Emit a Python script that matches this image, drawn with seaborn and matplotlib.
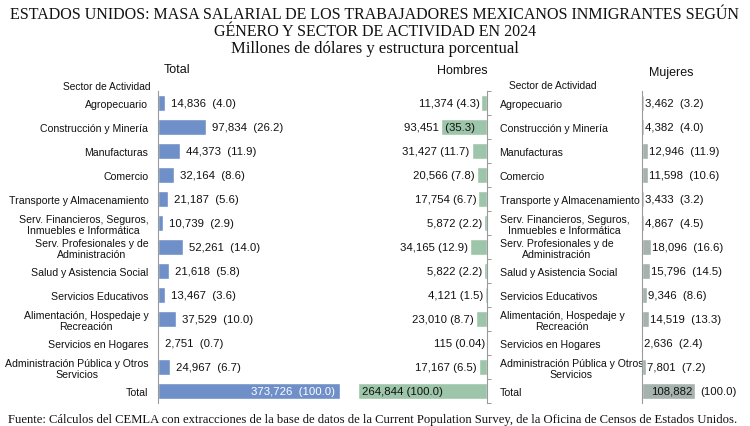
import numpy as np
import pandas as pd
import matplotlib
matplotlib.use("Agg")
import matplotlib.pyplot as plt
import seaborn as sns

categories = ["Agropecuario", "Construcción y Minería", "Manufacturas", "Comercio",
              "Transporte y Almacenamiento",
              "Serv. Financieros, Seguros,\nInmuebles e Informática",
              "Serv. Profesionales y de\nAdministración",
              "Salud y Asistencia Social", "Servicios Educativos",
              "Alimentación, Hospedaje y\nRecreación", "Servicios en Hogares",
              "Administración Pública y Otros\nServicios", "Total"]
total = [14836, 97834, 44373, 32164, 21187, 10739, 52261, 21618, 13467, 37529, 2751, 24967, 373726]
total_pct = ["4.0", "26.2", "11.9", "8.6", "5.6", "2.9", "14.0", "5.8", "3.6", "10.0", "0.7", "6.7", "100.0"]
hombres = [11374, 93451, 31427, 20566, 17754, 5872, 34165, 5822, 4121, 23010, 115, 17167, 264844]
hombres_pct = ["4.3", "35.3", "11.7", "7.8", "6.7", "2.2", "12.9", "2.2", "1.5", "8.7", "0.04", "6.5", "100.0"]
mujeres = [3462, 4382, 12946, 11598, 3433, 4867, 18096, 15796, 9346, 14519, 2636, 7801, 108882]
mujeres_pct = ["3.2", "4.0", "11.9", "10.6", "3.2", "4.5", "16.6", "14.5", "8.6", "13.3", "2.4", "7.2", "100.0"]

df = pd.DataFrame({"sector": categories, "total": total, "hombres": hombres, "mujeres": mujeres})

sns.set_theme(style="white")
plt.rcParams["font.family"] = ["Liberation Sans", "DejaVu Sans"]

W, H = 750, 427
fig = plt.figure(figsize=(7.5, 4.27), dpi=100)
fig.patch.set_facecolor("white")

S = 2050.0  # data units per pixel (shared scale)
top_px, bot_px = 92, 404

def axes_px(left, width):
    return fig.add_axes([left / W, 1 - bot_px / H, width / W, (bot_px - top_px) / H])

ax_t = axes_px(158, 200)
ax_h = axes_px(337, 150)
ax_m = axes_px(642, 100)
for a in (ax_t, ax_h, ax_m):
    a.patch.set_alpha(0)

C_T, C_H, C_M = "#6F8FC8", "#9DC5AA", "#A5B2AE"
SPINE = "#9a9a9a"
FS_CAT = 7.6
FS_VAL = 8.2

sns.barplot(data=df, x="total", y="sector", color=C_T, orient="h", width=0.7,
            saturation=1, ax=ax_t)
sns.barplot(data=df, x="hombres", y="sector", color=C_H, orient="h", width=0.7,
            saturation=1, ax=ax_h)
sns.barplot(data=df, x="mujeres", y="sector", color=C_M, orient="h", width=0.7,
            saturation=1, ax=ax_m)

ax_t.set_xlim(0, 200 * S)
ax_h.set_xlim(150 * S, 0)
ax_m.set_xlim(0, 100 * S)

n = len(categories)
for a in (ax_t, ax_h, ax_m):
    a.set_ylim(n - 0.5, -0.5)
    a.xaxis.set_visible(False)
    a.set_ylabel("")
    a.set_xlabel("")
    for s in ("top", "bottom"):
        a.spines[s].set_visible(False)
    a.set_yticks(np.arange(-0.5, n, 1), minor=True)
    a.tick_params(axis="y", which="major", length=0)
    a.tick_params(axis="y", which="minor", length=3, width=0.7, color=SPINE, direction="out")

# Total axis
ax_t.spines["right"].set_visible(False)
ax_t.spines["left"].set_color(SPINE)
ax_t.spines["left"].set_linewidth(0.8)
ax_t.tick_params(axis="y", which="major", pad=7, labelsize=FS_CAT, labelcolor="#111111")
for lab in ax_t.get_yticklabels():
    lab.set_multialignment("center")
    lab.set_linespacing(1.15)

# Hombres axis (spine on the right, labels on the right)
ax_h.spines["left"].set_visible(False)
ax_h.spines["right"].set_color(SPINE)
ax_h.spines["right"].set_linewidth(0.8)
ax_h.yaxis.tick_right()
ax_h.tick_params(axis="y", which="major", pad=9, labelsize=FS_CAT, labelcolor="#111111")
for lab in ax_h.get_yticklabels():
    lab.set_multialignment("center")
    lab.set_horizontalalignment("left")
    lab.set_linespacing(1.15)

# Mujeres axis
ax_m.spines["right"].set_visible(False)
ax_m.spines["left"].set_color(SPINE)
ax_m.spines["left"].set_linewidth(0.8)
ax_m.set_yticklabels([])

PX = 72.0 / 100.0  # points per pixel

last = n - 1
# Total labels
for i, (v, p) in enumerate(zip(total, total_pct)):
    if i == last:
        ax_t.annotate(f"{v:,}  ({p})", (v, i), xytext=(-5 * PX, 0), textcoords="offset points",
                      ha="right", va="center", fontsize=FS_VAL, color="white")
    else:
        ax_t.annotate(f"{v:,}  ({p})", (v, i), xytext=(6 * PX, 0), textcoords="offset points",
                      ha="left", va="center", fontsize=FS_VAL, color="#111111")

# Hombres labels
for i, (v, p) in enumerate(zip(hombres, hombres_pct)):
    if i == last:
        ax_h.annotate(f"{v:,} ({p})", (v, i), xytext=(4 * PX, 0), textcoords="offset points",
                      ha="left", va="center", fontsize=FS_VAL, color="#111111")
    elif v > 60000:
        ax_h.annotate(f"{v:,}  ({p})", (0, i), xytext=(-12 * PX, 0), textcoords="offset points",
                      ha="right", va="center", fontsize=FS_VAL, color="#111111")
    else:
        ax_h.annotate(f"{v:,} ({p})", (v, i), xytext=(-2 * PX, 0), textcoords="offset points",
                      ha="right", va="center", fontsize=FS_VAL, color="#111111")

# Mujeres labels
for i, (v, p) in enumerate(zip(mujeres, mujeres_pct)):
    if i == last:
        ax_m.annotate(f"{v:,}", (0, i), xytext=(9 * PX, 0), textcoords="offset points",
                      ha="left", va="center", fontsize=FS_VAL, color="#111111")
        ax_m.annotate(f"({p})", (v, i), xytext=(5 * PX, 0), textcoords="offset points",
                      ha="left", va="center", fontsize=FS_VAL, color="#111111")
    else:
        ax_m.annotate(f"{v:,}  ({p})", (v, i), xytext=(1 * PX, 0), textcoords="offset points",
                      ha="left", va="center", fontsize=FS_VAL, color="#111111")

def ftext(x, y, s, **kw):
    fig.text(x / W, 1 - y / H, s, **kw)

serif = ["Liberation Serif", "DejaVu Serif"]
ftext(375, 15, "ESTADOS UNIDOS: MASA SALARIAL DE LOS TRABAJADORES MEXICANOS INMIGRANTES SEGÚN",
      ha="center", va="center", fontsize=11.55, family=serif, color="#111111")
ftext(375, 32, "GÉNERO Y SECTOR DE ACTIVIDAD EN 2024",
      ha="center", va="center", fontsize=11.55, family=serif, color="#111111")
ftext(375, 49, "Millones de dólares y estructura porcentual",
      ha="center", va="center", fontsize=12.0, family=serif, color="#111111")

ftext(177, 70, "Total", ha="center", va="center", fontsize=9, color="#111111")
ftext(462, 71, "Hombres", ha="center", va="center", fontsize=9, color="#111111")
ftext(671, 73, "Mujeres", ha="center", va="center", fontsize=9, color="#111111")
ftext(107, 87, "Sector de Actividad", ha="center", va="center", fontsize=7.4, color="#111111")
ftext(553, 86, "Sector de Actividad", ha="center", va="center", fontsize=7.4, color="#111111")

ftext(8, 420, "Fuente: Cálculos del CEMLA con extracciones de la base de datos de la Current Population Survey, de la Oficina de Censos de Estados Unidos.",
      ha="left", va="center", fontsize=9.05, family=serif, color="#111111")

fig.savefig("out.png", dpi=100, facecolor="white")
